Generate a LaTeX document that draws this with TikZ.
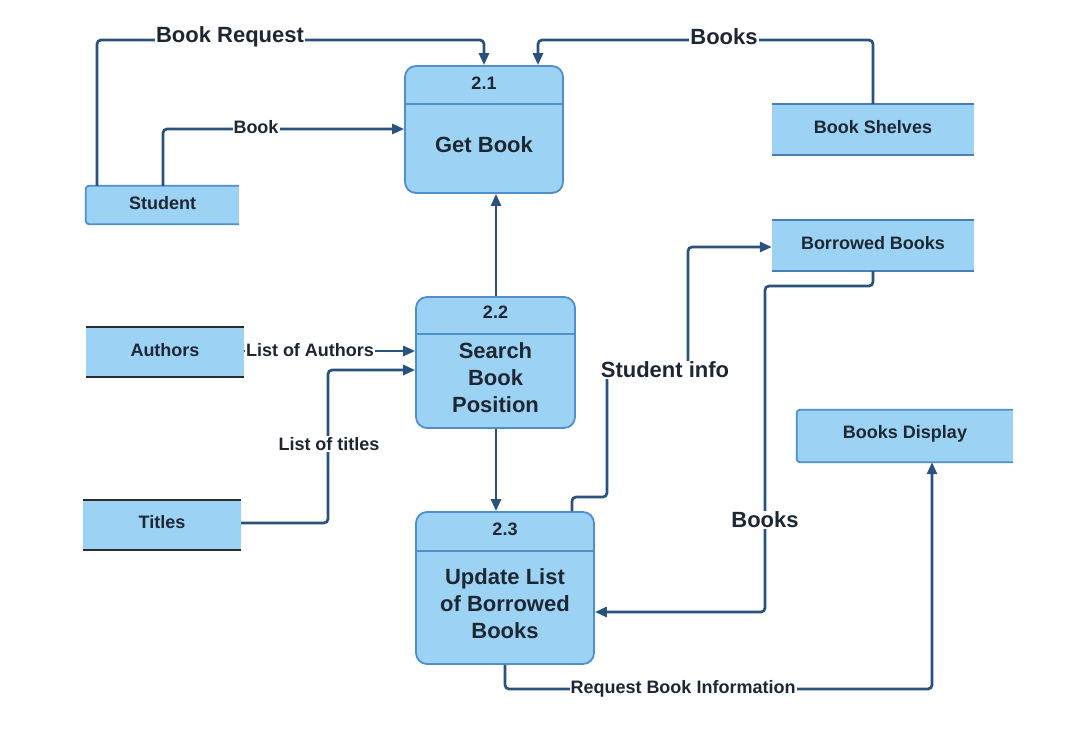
\documentclass[tikz,border=0pt]{standalone}
\usepackage{fontspec}
\setmainfont{Liberation Sans}
\usetikzlibrary{arrows.meta,calc}
\definecolor{boxfill}{HTML}{9CD3F4}
\definecolor{procline}{HTML}{4F8FCB}
\definecolor{flowc}{HTML}{29527F}
\definecolor{txt}{HTML}{1D2733}
\definecolor{darkline}{HTML}{2B2B2B}
\definecolor{storeline}{HTML}{4A7FB5}
\tikzset{
  proc/.style={rectangle, rounded corners=11pt, fill=boxfill, draw=procline, line width=1.8pt, inner sep=0pt},
  store/.style={rectangle, fill=boxfill, inner sep=0pt},
  big/.style={font=\fontsize{22}{27}\selectfont\bfseries, text=txt, align=center, inner sep=0pt},
  small/.style={font=\fontsize{18}{21}\selectfont\bfseries, text=txt, align=center, inner sep=0pt},
  flow/.style={draw=flowc, line width=2.7pt, rounded corners=4pt, -{Triangle[length=12pt,width=10pt]}},
  lab/.style={fill=white, inner sep=1pt}
}
\begin{document}
\begin{tikzpicture}[x=1pt,y=-1pt]
\useasboundingbox[fill=white] (0,0) rectangle (1067,728);

% processes
\node[proc, minimum width=158pt, minimum height=127pt] (p21) at (484,129.5) {};
\draw[procline, line width=1.8pt] (p21.west |- 0,104) -- (p21.east |- 0,104);
\node[small] (n21) at (484,83) {2.1};
\node[big] (t21) at (484,145) {Get Book};

\node[proc, minimum width=159pt, minimum height=131pt] (p22) at (495.5,362.5) {};
\draw[procline, line width=1.8pt] (p22.west |- 0,334) -- (p22.east |- 0,334);
\node[small] (n22) at (495.5,312) {2.2};
\node[big] (t22) at (495.5,378) {Search\\Book\\Position};

\node[proc, minimum width=178pt, minimum height=152pt] (p23) at (505,588) {};
\draw[procline, line width=1.8pt] (p23.west |- 0,551) -- (p23.east |- 0,551);
\node[small] (n23) at (505,529) {2.3};
\node[big] (t23) at (505,604) {Update List\\of Borrowed\\Books};

% data stores
\node[store, minimum width=153pt, minimum height=38pt] (student) at (162.5,205) {};
\draw[procline, line width=1.8pt, rounded corners=3pt] (student.north east) -- (student.north west) -- (student.south west) -- (student.south east);
\node[small] (tstudent) at (162.5,203) {Student};

\node[store, minimum width=202pt, minimum height=51pt] (shelves) at (873,129.5) {};
\draw[storeline, line width=1.8pt] (shelves.north west) -- (shelves.north east) (shelves.south west) -- (shelves.south east);
\node[small] (tshelves) at (873,127) {Book Shelves};

\node[store, minimum width=202pt, minimum height=51pt] (borrowed) at (873,245.5) {};
\draw[storeline, line width=1.8pt] (borrowed.north west) -- (borrowed.north east) (borrowed.south west) -- (borrowed.south east);
\node[small] (tborrowed) at (873,243) {Borrowed Books};

\node[store, minimum width=158pt, minimum height=50pt] (authors) at (165,352) {};
\draw[darkline, line width=2pt] (authors.north west) -- (authors.north east) (authors.south west) -- (authors.south east);
\node[small] (tauthors) at (165,350) {Authors};

\node[store, minimum width=158pt, minimum height=50pt] (titles) at (162,525) {};
\draw[darkline, line width=2pt] (titles.north west) -- (titles.north east) (titles.south west) -- (titles.south east);
\node[small] (ttitles) at (162,522) {Titles};

\node[store, minimum width=216pt, minimum height=52pt] (display) at (905,436) {};
\draw[procline, line width=1.8pt, rounded corners=3pt] (display.north east) -- (display.north west) -- (display.south west) -- (display.south east);
\node[small] (tdisplay) at (905,434) {Books Display};

% flows
\draw[flow] (97,0 |- student.north) -- (97,40) -- (484,40) -- (484,0 |- p21.north);
\draw[flow] (163,0 |- student.north) -- (163,129) -- (p21.west |- 0,129);
\draw[flow] (873,0 |- shelves.north) -- (873,40) -- (538,40) -- (538,0 |- p21.north);
\draw[flow] (496,0 |- p22.north) -- (496,0 |- p21.south);
\draw[flow] (authors.east |- 0,351) -- (p22.west |- 0,351);
\draw[flow] (titles.east |- 0,523) -- (328,523) -- (328,370) -- (p22.west |- 0,370);
\draw[flow] (496,0 |- p22.south) -- (496,0 |- p23.north);
\draw[flow] (572,0 |- p23.north) -- (572,497) -- (607,497) -- (607,370) -- (688,370) -- (688,247) -- (borrowed.west |- 0,247);
\draw[flow] (873,0 |- borrowed.south) -- (873,286) -- (765,286) -- (765,612) -- (p23.east |- 0,612);
\draw[flow] (505,0 |- p23.south) -- (505,689) -- (932,689) -- (932,0 |- display.south);

% labels
\node[big, lab] (lbr) at (230,37) {Book Request};
\node[small, lab] (lbook) at (256,127) {Book};
\node[big, lab] (lbooks1) at (724,37) {Books};
\node[small, lab] (lla) at (310,350) {List of Authors};
\node[small, lab] (llt) at (329,444) {List of titles};
\node[big, lab] (lsi) at (665,370) {Student info};
\node[big, lab] (lbooks2) at (765,520) {Books};
\node[small, lab] (lrbi) at (683,689) {Request Book Information};
\end{tikzpicture}
\end{document}
